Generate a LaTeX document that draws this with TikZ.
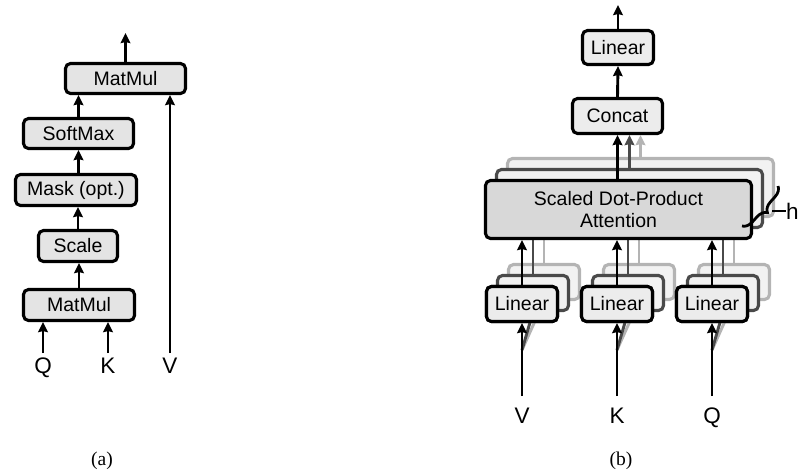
\documentclass[tikz,border=0pt]{standalone}
\usepackage{fontspec}
\setmainfont{Liberation Sans}
\newfontfamily\capfont{Liberation Serif}
\usetikzlibrary{arrows.meta,decorations.pathreplacing,calc}

\definecolor{boxfill}{HTML}{E4E4E4}
\definecolor{attfill}{HTML}{D8D8D8}
\definecolor{linfill}{HTML}{ECECEC}
\definecolor{midgray}{HTML}{4A4A4A}
\definecolor{lightgray}{HTML}{B4B4B4}
\definecolor{copyfill}{HTML}{F2F2F2}

\tikzset{
  blk/.style={draw=black, line width=3.1pt, rounded corners=5pt, fill=boxfill,
    inner sep=0pt, align=center, font=\fontsize{19.5}{23}\selectfont},
  linbox/.style={blk, fill=linfill, minimum width=71pt, minimum height=35pt},
  midcopy/.style={draw=midgray, fill=copyfill},
  backcopy/.style={draw=lightgray, fill=copyfill},
  arr/.style={line width=2.9pt, -{Stealth[length=10pt,width=9.5pt,inset=1pt]}},
  lbl/.style={inner sep=0pt, anchor=base, font=\fontsize{22.5}{24}\selectfont},
  captxt/.style={inner sep=0pt, anchor=base, font=\capfont\fontsize{19.5}{22}\selectfont}
}

\begin{document}
\begin{tikzpicture}[x=1pt,y=-1pt]
\useasboundingbox (0,0) rectangle (800,475);

% ---------- (a) scaled dot-product attention ----------
\node[blk, minimum width=120pt, minimum height=30pt] (mmtop) at (125.5,78.5) {MatMul};
\node[blk, minimum width=110pt, minimum height=30pt] (soft)  at (78.5,133.5) {SoftMax};
\node[blk, minimum width=121pt, minimum height=31pt] (mask)  at (76,190)    {Mask (opt.)};
\node[blk, minimum width=79pt,  minimum height=31pt] (scale) at (78,246)    {Scale};
\node[blk, minimum width=111pt, minimum height=31pt] (mmbot) at (79,305)    {MatMul};

\coordinate (aout) at (125.5,33);
\draw[arr] (mmtop.north) -- (aout);
\draw[arr] (soft.north) -- (soft.north |- mmtop.south);
\draw[arr] (mask.north -| soft.north) -- (soft.south);
\draw[arr] (scale.north) -- (scale.north |- mask.south);
\draw[arr] (mmbot.north) -- (mmbot.north |- scale.south);

\node[lbl] (qa) at (43,373)  {Q};
\node[lbl] (ka) at (108,373) {K};
\node[lbl] (va) at (170,373) {V};
\coordinate (qas) at (43,353);
\coordinate (kas) at (108,353);
\coordinate (vas) at (170,353);
\draw[arr] (qas) -- (qas |- mmbot.south);
\draw[arr] (kas) -- (kas |- mmbot.south);
\draw[arr] (vas) -- (vas |- mmtop.south);

\node[captxt] (capa) at (102,465) {(a)};

% ---------- (b) multi-head attention ----------
% back copies of the heads
\node[blk, backcopy, minimum width=266pt, minimum height=58pt] (attb) at (640.5,187.5) {};
\node[linbox, backcopy] (lvb) at (544,282) {};
\node[linbox, backcopy] (lkb) at (639,282) {};
\node[linbox, backcopy] (lqb) at (734,282) {};
\foreach \n in {lvb,lkb,lqb}
  \draw[arr, lightgray] (\n.north) -- (\n.north |- attb.south);

% middle copies of the heads
\node[blk, midcopy, minimum width=266pt, minimum height=58pt] (attm) at (629.5,198.5) {};
\node[linbox, midcopy] (lvm) at (533,293) {};
\node[linbox, midcopy] (lkm) at (628,293) {};
\node[linbox, midcopy] (lqm) at (723,293) {};
\foreach \n in {lvm,lkm,lqm}
  \draw[arr, midgray] (\n.north) -- (\n.north |- attm.south);

% front head
\node[blk, fill=attfill, minimum width=266pt, minimum height=58pt] (att) at (618.5,209.5)
  {Scaled Dot-Product\\[-1pt]Attention};
\node[linbox] (lv) at (522,304) {Linear};
\node[linbox] (lk) at (617,304) {Linear};
\node[linbox] (lq) at (712,304) {Linear};
\foreach \n in {lv,lk,lq}
  \draw[arr] (\n.north) -- (\n.north |- att.south);

% concatenation and output projection
\node[blk, fill=linfill, minimum width=90pt, minimum height=35pt] (concat) at (617.5,116) {Concat};
\node[blk, fill=linfill, minimum width=71pt, minimum height=34pt] (lintop) at (618,47.5) {Linear};
\coordinate (bout) at (618,5);
\draw[arr, lightgray] (attb.north) -- (attb.north |- concat.south);
\draw[arr, midgray] (attm.north) -- (attm.north |- concat.south);
\draw[arr] (concat.south |- att.north) -- (concat.south);
\draw[arr] (concat.north) -- (lintop.south);
\draw[arr] (lintop.north) -- (bout);

% inputs
\node[lbl] (vb) at (522,423) {V};
\node[lbl] (kb) at (617,423) {K};
\node[lbl] (qb) at (712,423) {Q};
\foreach \x/\a/\m/\b in {522/lv/lvm/lvb, 617/lk/lkm/lkb, 712/lq/lqm/lqb}{
  \coordinate (in\a) at (\x,396);
  \coordinate (sp\a) at (\x,350);
  \draw[arr, lightgray] (sp\a) -- (\b.south);
  \draw[arr, midgray] (sp\a) -- (\m.south);
  \draw[arr] (in\a) -- (\a.south);
}
% redraw the front linear boxes over the diagonal shadow inputs
\node[linbox] at (lv) {Linear};
\node[linbox] at (lk) {Linear};
\node[linbox] at (lq) {Linear};

% number of heads
\coordinate (br1) at (742,226);
\coordinate (br2) at (778,186);
\draw[line width=2.8pt, decorate, decoration={brace, mirror, amplitude=10pt, aspect=0.5}] (br1) -- (br2);
\coordinate (hl) at (772,211);
\node[lbl, anchor=west] (h) at (786,211) {h};
\draw[line width=1.6pt] (hl) -- (h.west);

\node[captxt] (capb) at (621,465) {(b)};
\end{tikzpicture}
\end{document}
